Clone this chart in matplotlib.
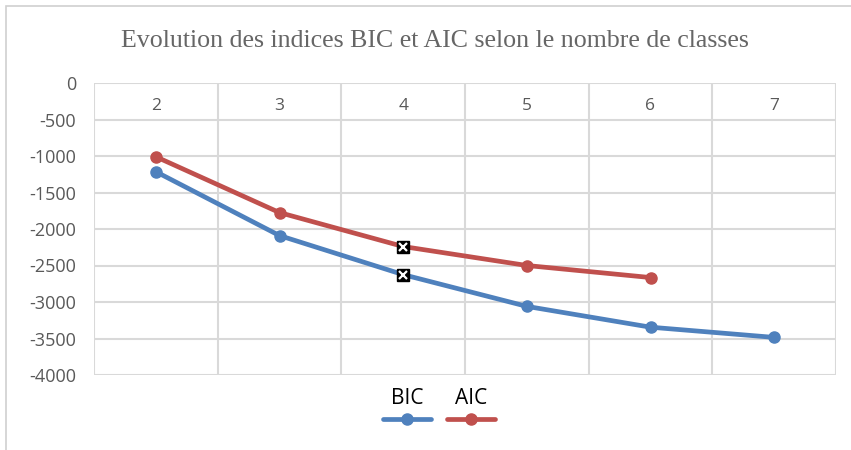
import numpy as np
import matplotlib
matplotlib.use("Agg")
import matplotlib.pyplot as plt
from matplotlib.lines import Line2D
from matplotlib.patches import Rectangle

plt.rcParams["axes.unicode_minus"] = False

classes = ["2", "3", "4", "5", "6", "7"]
bic = [-1215, -2090, -2625, -3060, -3345, -3485]
aic = [-1010, -1775, -2240, -2500, -2665, np.nan]
marked = 2  # index of the highlighted class (4)

blue = "#4F81BD"
red = "#C0504D"
grid_col = "#D9D9D9"
text_col = "#595959"

fig = plt.figure(figsize=(8.51, 4.5), dpi=100)
W, H = 851, 450
ax = fig.add_axes([94 / W, 1 - 375 / H, (836 - 94) / W, (375 - 83) / H])

x = np.arange(len(classes))
ax.plot(x, bic, color=blue, lw=3.4, marker="o", ms=8, solid_capstyle="round", zorder=3)
ax.plot(x, aic, color=red, lw=3.4, marker="o", ms=8, solid_capstyle="round", zorder=3)

# highlighted points at class 4
for s in (bic, aic):
    ax.plot(x[marked], s[marked], marker="s", ms=9, color="black", zorder=4)
    ax.plot(x[marked], s[marked], marker="x", ms=6, mew=1.6, color="white", zorder=5)

ax.set_xlim(-0.5, len(classes) - 0.5)
ax.set_ylim(-4000, 0)
ax.set_yticks(np.arange(-4000, 1, 500))
ax.set_xticks(x)
ax.set_xticklabels(classes)
ax.set_xticks(np.arange(-0.5, len(classes), 1), minor=True)
ax.xaxis.set_ticks_position("top")
ax.tick_params(axis="x", which="both", length=0, pad=-22, labelsize=12.5, labelcolor=text_col)
ax.tick_params(axis="y", length=0, pad=13, labelsize=13, labelcolor=text_col)
for lab in ax.get_xticklabels() + ax.get_yticklabels():
    lab.set_family("Open Sans")

ax.grid(axis="y", color=grid_col, lw=1.5)
ax.grid(axis="x", which="minor", color=grid_col, lw=1.5)
ax.set_axisbelow(True)
for sp in ax.spines.values():
    sp.set_visible(False)

fig.text(435 / W, 1 - 41 / H, "Evolution des indices BIC et AIC selon le nombre de classes",
         ha="center", va="center", fontsize=18.6, color="#666666", family="Liberation Serif")

# legend: label above each line sample
for cx, name, col in [(407, "BIC", blue), (471, "AIC", red)]:
    fig.text(cx / W, 1 - 398 / H, name, ha="center", va="center", fontsize=15,
             color="black", family="Open Sans")
    fig.add_artist(Line2D([(cx - 24) / W, (cx + 24) / W], [1 - 419 / H] * 2, color=col,
                          lw=3.4, solid_capstyle="round"))
    fig.add_artist(Line2D([cx / W], [1 - 419 / H], marker="o", ms=8, color=col))

# chart frame
fig.add_artist(Rectangle((6 / W, -0.1), 1.2, 1 - 6 / H + 0.1, transform=fig.transFigure,
                         fill=False, ec="#D0D0D0", lw=1.2))

fig.savefig("out.png", dpi=100, facecolor="white")
